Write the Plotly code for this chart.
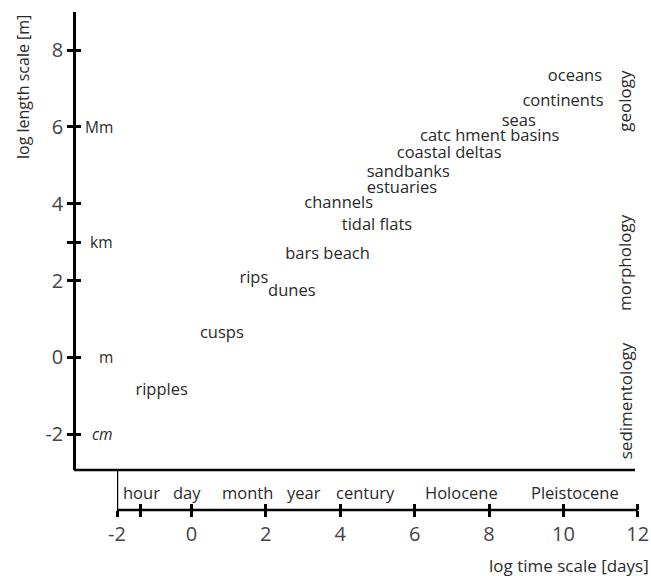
import plotly.graph_objects as go

W, H = 651, 576


def fx(p):
    return p / W


def fy(p):
    return 1 - p / H


# ---- data ----
landforms = ["oceans", "continents", "seas", "catc hment basins", "coastal deltas",
             "sandbanks", "estuaries", "channels", "tidal flats", "bars beach",
             "rips", "dunes", "cusps", "ripples"]
log_time = [10.31, 9.99, 8.80, 8.02, 6.93, 5.83, 5.66, 3.96, 4.99, 3.66, 1.68, 2.70, 0.82, -0.80]
log_length = [7.30, 6.65, 6.13, 5.74, 5.30, 4.80, 4.39, 4.00, 3.42, 2.67, 2.04, 1.71, 0.61, -0.87]

time_ticks = [-2, -1.38, 0, 2, 4, 6, 8, 10, 12]
time_tick_text = ["-2", "", "0", "2", "4", "6", "8", "10", "12"]
time_names = ["hour", "day", "month", "year", "century", "Holocene", "Pleistocene"]
time_name_x = [-1.34, -0.13, 1.50, 3.03, 4.67, 7.27, 10.30]

length_ticks = [-2, 0, 2, 3, 4, 6, 8]
length_tick_text = ["-2", "0", "2", "", "4", "6", "8"]
unit_names = ["Mm", "km", "m", "<i>cm</i>"]
unit_y = [6, 3, 0, -2]
disciplines = ["geology", "morphology", "sedimentology"]
discipline_y = [6.68, 2.46, -1.14]

FONT = "Open Sans"
TXT = "#2a2a2a"
NUM = "#444444"
LW = 2.5

fig = go.Figure()
fig.add_trace(go.Scatter(
    x=log_time, y=log_length, text=landforms, mode="text",
    textposition="middle center",
    textfont=dict(family=FONT, size=16.5, color=TXT),
    hoverinfo="skip", xaxis="x", yaxis="y"))
fig.add_trace(go.Scatter(x=[None], y=[None], mode="markers", xaxis="x2", yaxis="y2",
                         hoverinfo="skip", showlegend=False))

PPU = 37.2  # pixels per decade on the time axis
xr = [-2, 12.03]
xdom = [fx(117), fx(117 + (xr[1] - xr[0]) * PPU)]
xpos = fy(510)
ydom = [fy(470), fy(11.7)]
ypos = fx(74)
yr = [-2.93, 9.0]

common_x = dict(range=xr, domain=xdom, anchor="free", position=xpos,
                tickvals=time_ticks, showgrid=False, zeroline=False, automargin=False,
                ticklabeloverflow="allow",
                ticklen=6, tickwidth=LW, tickcolor="black", fixedrange=True)
common_y = dict(range=yr, domain=ydom, anchor="free", position=ypos,
                tickvals=length_ticks, showgrid=False, zeroline=False, automargin=False,
                ticklabeloverflow="allow",
                ticklen=6, tickwidth=LW, tickcolor="black", fixedrange=True)

fig.update_layout(
    width=W, height=H, margin=dict(l=0, r=0, t=0, b=0),
    paper_bgcolor="white", plot_bgcolor="rgba(0,0,0,0)", showlegend=False,
    xaxis=dict(**common_x, ticks="outside", showline=False,
               ticktext=time_tick_text, tickfont=dict(family=FONT, size=20, color=NUM)),
    xaxis2=dict(**common_x, overlaying="x", ticks="inside", showline=False,
                showticklabels=False),
    yaxis=dict(**common_y, ticks="outside", showline=True, linewidth=LW, linecolor="black",
               ticktext=length_tick_text, tickfont=dict(family=FONT, size=20, color=NUM)),
    yaxis2=dict(**common_y, overlaying="y", ticks="inside", showline=False,
                showticklabels=False),
)

# main horizontal frame line, the time-axis line and the bracket joining them
fig.add_shape(type="line", xref="paper", yref="paper", x0=fx(74), x1=fx(635),
              y0=fy(470), y1=fy(470), line=dict(color="black", width=LW))
fig.add_shape(type="line", xref="x", yref="paper", x0=xr[0], x1=12,
              y0=fy(510), y1=fy(510), line=dict(color="black", width=LW))
fig.add_shape(type="line", xref="x", yref="paper", x0=xr[0], x1=xr[0],
              y0=fy(470), y1=fy(510), line=dict(color="black", width=LW))

ann = []
for u, v in zip(unit_names, unit_y):
    ann.append(dict(text=u, xref="paper", yref="y", x=fx(115), y=v, xanchor="right",
                    yanchor="middle", showarrow=False,
                    font=dict(family=FONT, size=15.5, color=TXT)))
for t, v in zip(time_names, time_name_x):
    ann.append(dict(text=t, xref="x", yref="paper", x=v, y=fy(492), xanchor="center",
                    yanchor="middle", showarrow=False,
                    font=dict(family=FONT, size=16.5, color=TXT)))
for d, v in zip(disciplines, discipline_y):
    ann.append(dict(text=d, xref="paper", yref="y", x=fx(625), y=v, textangle=-90,
                    xanchor="center", yanchor="middle", showarrow=False,
                    font=dict(family=FONT, size=17, color=TXT)))
ann.append(dict(text="log length scale [m]", xref="paper", yref="paper", x=fx(23), y=fy(87),
                textangle=-90, xanchor="center", yanchor="middle", showarrow=False,
                font=dict(family=FONT, size=16, color=TXT)))
ann.append(dict(text="log time scale [days]", xref="paper", yref="paper", x=fx(651), y=fy(565),
                xanchor="right", yanchor="middle", showarrow=False,
                font=dict(family=FONT, size=17, color=TXT)))
fig.update_layout(annotations=ann)

fig.write_html("out.html")
